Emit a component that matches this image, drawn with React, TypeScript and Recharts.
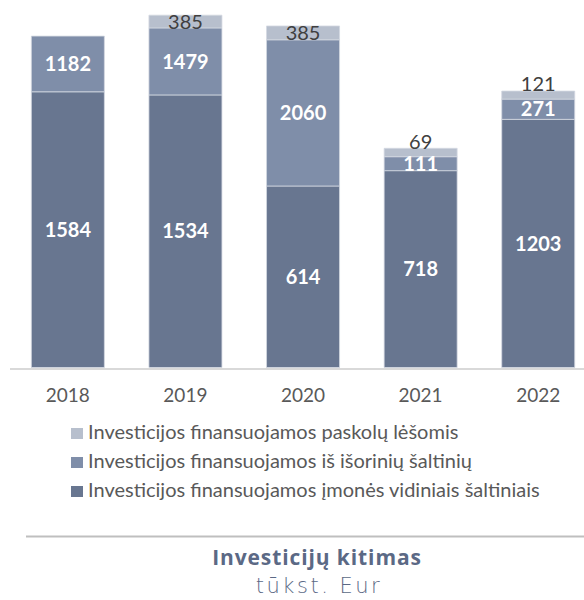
import { BarChart, Bar, XAxis, YAxis, LabelList } from "recharts";

const years = ["2018", "2019", "2020", "2021", "2022"];

// bar lengths as drawn in the source picture (they do not follow the printed numbers)
const vidiniai = [1580, 1562, 1040, 1128, 1422];
const isoriniai = [319, 384, 838, 80, 116];
const paskolos = [null, 73, 79, 48, 46];

// numbers printed on the bars
const vidiniaiLabels = [1584, 1534, 614, 718, 1203];
const isoriniaiLabels = [1182, 1479, 2060, 111, 271];
const paskolosLabels = [null, 385, 385, 69, 121];

const seriesNames = [
  "Investicijos finansuojamos paskolų lėšomis",
  "Investicijos finansuojamos iš išorinių šaltinių",
  "Investicijos finansuojamos įmonės vidiniais šaltiniais",
];
const seriesColors = ["#b7bfcd", "#7f8ea9", "#687690"];

const title = "Investicijų kitimas";
const subtitle = "tūkst. Eur";

const data = years.map((year, i) => ({
  year,
  vidiniai: vidiniai[i],
  isoriniai: isoriniai[i],
  paskolos: paskolos[i],
  vidiniaiLabel: vidiniaiLabels[i],
  isoriniaiLabel: isoriniaiLabels[i],
  paskolosLabel: paskolosLabels[i],
}));

const FONT = "Lato, 'Noto Sans', sans-serif";

function makeLabel(color: string, weight: number) {
  return (props: any) => {
    const { value } = props;
    if (value == null) return null;
    const vb = props.viewBox || props;
    const x = Number(vb.x);
    const y = Number(vb.y);
    const w = Number(vb.width);
    const h = Number(vb.height);
    const top = Math.min(y, y + h);
    const hh = Math.abs(h);
    let cy = top + hh / 2;
    // thin segment: lift the number up out of it
    if (hh < 10) cy -= 11;
    return (
      <text
        x={x + w / 2}
        y={cy + 7.2}
        textAnchor="middle"
        fill={color}
        fontSize={20}
        fontWeight={weight}
        fontFamily={FONT}
      >
        {value}
      </text>
    );
  };
}

export default function App() {
  return (
    <div
      style={{
        position: "absolute",
        left: 0,
        top: 0,
        width: 584,
        height: 600,
        overflow: "hidden",
        background: "#ffffff",
      }}
    >
      <BarChart
        width={600}
        height={420}
        data={data}
        margin={{ top: 15, right: 3, left: 9, bottom: 22.5 }}
        barCategoryGap="19%"
      >
        <XAxis
          dataKey="year"
          axisLine={false}
          tickLine={false}
          tickSize={6}
          tickMargin={15}
          height={30}
          tick={{ fill: "#595959", fontSize: 19, fontFamily: FONT }}
        />
        <YAxis hide domain={[0, 2020]} />
        <Bar
          dataKey="vidiniai"
          stackId="a"
          fill={seriesColors[2]}
          stroke="#d3d8e1"
          strokeWidth={0.8}
          isAnimationActive={false}
        >
          <LabelList dataKey="vidiniaiLabel" content={makeLabel("#ffffff", 700)} />
        </Bar>
        <Bar
          dataKey="isoriniai"
          stackId="a"
          fill={seriesColors[1]}
          stroke="#d3d8e1"
          strokeWidth={0.8}
          isAnimationActive={false}
        >
          <LabelList dataKey="isoriniaiLabel" content={makeLabel("#ffffff", 700)} />
        </Bar>
        <Bar
          dataKey="paskolos"
          stackId="a"
          fill={seriesColors[0]}
          stroke="#d3d8e1"
          strokeWidth={0.8}
          isAnimationActive={false}
        >
          <LabelList dataKey="paskolosLabel" content={makeLabel("#404040", 400)} />
        </Bar>
      </BarChart>

      <div
        style={{
          position: "absolute",
          left: 10,
          top: 367.5,
          width: 574,
          height: 2,
          background: "#d9d9d9",
        }}
      />

      <svg
        width={584}
        height={600}
        style={{ position: "absolute", left: 0, top: 0, pointerEvents: "none" }}
      >
        {seriesNames.map((name, i) => {
          const base = [439, 468, 497][i];
          return (
            <g key={name}>
              <rect x={71} y={base - 11} width={12} height={11} fill={seriesColors[i]} />
              <text x={88} y={base} fill="#595959" fontSize={20} fontFamily={FONT}>
                {name}
              </text>
            </g>
          );
        })}
        <line x1={26} y1={536.5} x2={584} y2={536.5} stroke="#bfbfbf" strokeWidth={2} />
        <text
          x={317}
          y={565}
          textAnchor="middle"
          fill="#5b6985"
          fontSize={21}
          fontWeight={700}
          letterSpacing={0.9}
          fontFamily="'Open Sans', sans-serif"
        >
          {title}
        </text>
        <text
          x={319}
          y={592.5}
          textAnchor="middle"
          fill="#5b6985"
          fontSize={21}
          fontWeight={200}
          letterSpacing={2.5}
          fontFamily="'DejaVu Sans', sans-serif"
        >
          {subtitle}
        </text>
      </svg>
    </div>
  );
}
